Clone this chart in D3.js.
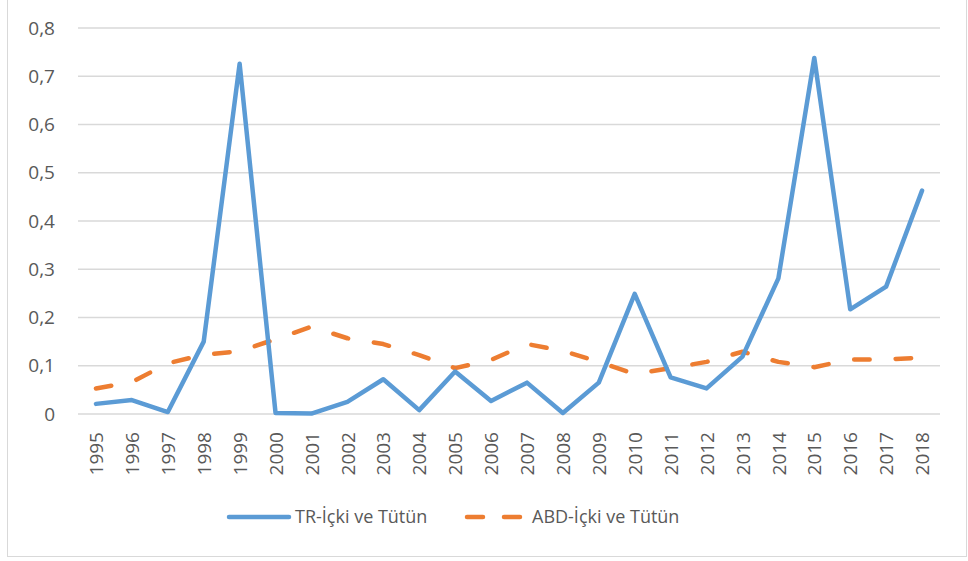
<!DOCTYPE html>
<html>
<head>
<meta charset="utf-8">
<script src="https://cdn.jsdelivr.net/npm/d3@7"></script>
<style>
  html, body { margin: 0; padding: 0; background: #fff; }
  svg { display: block; font-family: "Open Sans", sans-serif; }
  .tick text { fill: #595959; }
</style>
</head>
<body>
<svg id="chart" width="968" height="561"></svg>
<script>
// === Data ===
const years = ['1995','1996','1997','1998','1999','2000','2001','2002','2003','2004','2005','2006',
               '2007','2008','2009','2010','2011','2012','2013','2014','2015','2016','2017','2018'];
const trValues = [0.021, 0.029, 0.004, 0.150, 0.726, 0.002, 0.001, 0.025, 0.072, 0.008, 0.088, 0.027,
                  0.065, 0.002, 0.065, 0.249, 0.076, 0.053, 0.119, 0.281, 0.738, 0.217, 0.264, 0.463];
const abdValues = [0.053, 0.066, 0.105, 0.123, 0.130, 0.155, 0.181, 0.157, 0.145, 0.122, 0.095, 0.112,
                   0.145, 0.131, 0.108, 0.083, 0.095, 0.108, 0.129, 0.108, 0.097, 0.113, 0.113, 0.117];
const yTicks = [0, 0.1, 0.2, 0.3, 0.4, 0.5, 0.6, 0.7, 0.8];
const seriesNames = ['TR-İçki ve Tütün', 'ABD-İçki ve Tütün'];

const colors = { tr: '#5b9bd5', abd: '#ed7d31', grid: '#d9d9d9', text: '#595959' };

const svg = d3.select('#chart');
const W = 968, H = 561;
const plot = { left: 78, right: 940, top: 28, bottom: 414 };

// outer frame
svg.append('rect')
  .attr('x', 7.5).attr('y', -1).attr('width', W - 9).attr('height', 557.5)
  .attr('fill', 'none').attr('stroke', colors.grid).attr('stroke-width', 1);

const x = d3.scalePoint().domain(years).range([plot.left, plot.right]).padding(0.5);
const y = d3.scaleLinear().domain([0, 0.8]).range([plot.bottom, plot.top]);

// gridlines
svg.append('g')
  .selectAll('line')
  .data(yTicks)
  .join('line')
  .attr('x1', plot.left).attr('x2', plot.right)
  .attr('y1', d => y(d)).attr('y2', d => y(d))
  .attr('stroke', colors.grid).attr('stroke-width', 1.3);

// y axis labels
const fmt = d => d === 0 ? '0' : d3.format('.1f')(d).replace('.', ',');
const yAxis = svg.append('g')
  .attr('transform', `translate(${plot.left - 23},0)`)
  .call(d3.axisLeft(y).tickValues(yTicks).tickFormat(fmt).tickSize(0).tickPadding(0));
yAxis.select('.domain').remove();
yAxis.selectAll('text').attr('font-size', 19).attr('font-family', '"Open Sans", sans-serif');

// x axis labels (rotated)
const xAxis = svg.append('g')
  .attr('transform', `translate(0,${plot.bottom})`)
  .call(d3.axisBottom(x).tickSize(0).tickPadding(0));
xAxis.select('.domain').remove();
xAxis.selectAll('text')
  .attr('font-size', 19)
  .attr('font-family', '"Open Sans", sans-serif')
  .attr('transform', 'rotate(-90)')
  .attr('text-anchor', 'end')
  .attr('x', -18).attr('y', 0).attr('dy', '0.35em');

// lines
const line = d3.line().x((d, i) => x(years[i])).y(d => y(d));

svg.append('path')
  .datum(abdValues)
  .attr('d', line)
  .attr('fill', 'none')
  .attr('stroke', colors.abd)
  .attr('stroke-width', 4.5)
  .attr('stroke-linecap', 'round')
  .attr('stroke-linejoin', 'round')
  .attr('stroke-dasharray', '15.5,26');

svg.append('path')
  .datum(trValues)
  .attr('d', line)
  .attr('fill', 'none')
  .attr('stroke', colors.tr)
  .attr('stroke-width', 4.5)
  .attr('stroke-linecap', 'round')
  .attr('stroke-linejoin', 'round');

// legend
const legendY = 517;
const lg = svg.append('g');
lg.append('line')
  .attr('x1', 229).attr('x2', 289).attr('y1', legendY).attr('y2', legendY)
  .attr('stroke', colors.tr).attr('stroke-width', 4.5).attr('stroke-linecap', 'round');
lg.append('text')
  .attr('x', 295).attr('y', legendY).attr('dy', '0.35em')
  .attr('font-size', 18).attr('fill', colors.text)
  .text(seriesNames[0]);
lg.append('line')
  .attr('x1', 467).attr('x2', 521).attr('y1', legendY).attr('y2', legendY)
  .attr('stroke', colors.abd).attr('stroke-width', 4.5).attr('stroke-linecap', 'round')
  .attr('stroke-dasharray', '16,21');
lg.append('text')
  .attr('x', 532).attr('y', legendY).attr('dy', '0.35em')
  .attr('font-size', 18).attr('fill', colors.text)
  .text(seriesNames[1]);
</script>
</body>
</html>
